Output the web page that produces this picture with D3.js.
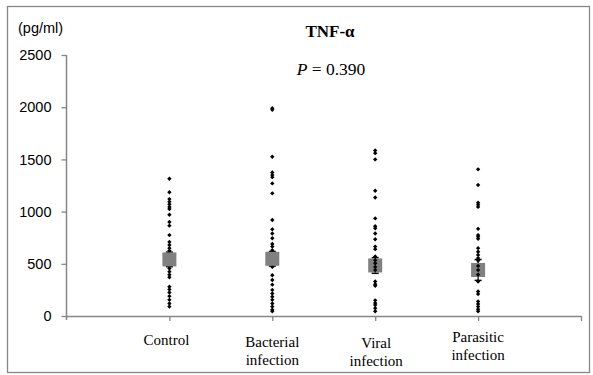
<!DOCTYPE html>
<html>
<head>
<meta charset="utf-8">
<script src="https://cdn.jsdelivr.net/npm/d3@7"></script>
<style>
  body { margin: 0; background: #fff; }
  .serif { font-family: "Liberation Serif", "Times New Roman", serif; }
  .sans { font-family: "Liberation Sans", Arial, sans-serif; }
</style>
</head>
<body>
<div id="chart"></div>
<script>
// Data
var groups = ["Control", "Bacterial infection", "Viral infection", "Parasitic infection"];
var groupLines = [["Control"], ["Bacterial", "infection"], ["Viral", "infection"], ["Parasitic", "infection"]];

var controlValues = [1315, 1185, 1120, 1095, 1070, 1045, 1025, 970, 900, 865, 775, 710, 680, 650, 625,
  600, 570, 540, 505, 480, 455, 425, 395, 370, 280, 255, 225, 190, 155, 120, 90];
var bacterialValues = [1990, 1975, 1525, 1375, 1350, 1330, 1270, 1175, 920, 830, 790, 745, 690, 665, 630,
  600, 560, 520, 470, 390, 345, 300, 250, 215, 185, 155, 120, 90, 60, 45];
var viralValues = [1585, 1560, 1500, 1200, 1135, 935, 860, 840, 790, 735, 665, 640, 570, 535, 505,
  470, 440, 330, 305, 290, 150, 125, 105, 75, 45];
var parasiticValues = [1405, 1255, 1085, 1065, 1045, 835, 775, 760, 740, 650, 615, 585, 555, 530, 480,
  440, 395, 330, 235, 210, 140, 115, 90, 65, 45];

var means = [542, 548, 484, 441];
var sems = [70, 70, 75, 100];

var yTicks = [0, 500, 1000, 1500, 2000, 2500];

var width = 593, height = 375;

var svg = d3.select("#chart").append("svg")
  .attr("width", width)
  .attr("height", height);

// outer frame
svg.append("rect")
  .attr("x", 7.5).attr("y", 6.5)
  .attr("width", 582).attr("height", 366)
  .attr("fill", "#fff")
  .attr("stroke", "#878787")
  .attr("stroke-width", 1.3);

// scales: categories sit at 1..4 on a 0..5 axis
var x = d3.scaleLinear().domain([0, 5]).range([66.5, 581]);
var y = d3.scaleLinear().domain([0, 2500]).range([316, 55]);

var axisColor = "#868686";

// y axis
var yAxis = svg.append("g")
  .attr("transform", "translate(" + x(0) + ",0)")
  .call(d3.axisLeft(y).tickValues(yTicks).tickFormat(d3.format("d"))
    .tickSize(5).tickPadding(10).tickSizeOuter(0));
yAxis.attr("font-family", null);
yAxis.select(".domain").attr("stroke", axisColor).attr("stroke-width", 1.5)
  .attr("d", "M0," + y(2500) + "V" + (y(0) + 4));
yAxis.selectAll(".tick line").attr("stroke", axisColor).attr("stroke-width", 1.3);
yAxis.selectAll(".tick text")
  .attr("class", "sans")
  .attr("font-size", "14.5px")
  .attr("fill", "#000");

// x axis
var xAxis = svg.append("g")
  .attr("transform", "translate(0," + y(0) + ")")
  .call(d3.axisBottom(x).tickValues([1, 2, 3, 4, 5]).tickSize(5).tickFormat("").tickSizeOuter(0));
xAxis.select(".domain").attr("stroke", axisColor).attr("stroke-width", 1.5);
xAxis.selectAll(".tick line").attr("stroke", axisColor).attr("stroke-width", 1.3);

// category labels (Excel text boxes, each placed a bit differently)
var labelLayout = [{dx: -3, base: 345}, {dx: 0, base: 347}, {dx: 1, base: 348}, {dx: 0, base: 342}];
groupLines.forEach(function(lines, i) {
  var t = svg.append("text")
    .attr("class", "serif")
    .attr("font-size", "15px")
    .attr("text-anchor", "middle")
    .attr("fill", "#000");
  lines.forEach(function(l, j) {
    t.append("tspan")
      .attr("x", x(i + 1) + labelLayout[i].dx)
      .attr("y", labelLayout[i].base + j * 18)
      .text(l);
  });
});

// unit label
svg.append("text")
  .attr("class", "sans")
  .attr("x", 18).attr("y", 33)
  .attr("font-size", "14.5px")
  .text("(pg/ml)");

// title and p value
svg.append("text")
  .attr("class", "serif")
  .attr("x", 330).attr("y", 36.5)
  .attr("text-anchor", "middle")
  .attr("font-weight", "bold")
  .attr("font-size", "17px")
  .text("TNF-α");

var pText = svg.append("text")
  .attr("class", "serif")
  .attr("x", 331).attr("y", 75)
  .attr("text-anchor", "middle")
  .attr("font-size", "17.5px");
pText.append("tspan").attr("font-style", "italic").text("P");
pText.append("tspan").text(" = 0.390");

var allValues = [controlValues, bacterialValues, viralValues, parasiticValues];
var diamond = d3.symbol().type(d3.symbolSquare).size(9.5);

function drawDots(i) {
  svg.append("g").selectAll("path")
    .data(allValues[i])
    .enter().append("path")
    .attr("d", diamond)
    .attr("transform", function(d) {
      return "translate(" + x(i + 1) + "," + y(d) + ") rotate(45)";
    })
    .attr("fill", "#000");
}

// control and bacterial dots sit under the mean markers
drawDots(0);
drawDots(1);

// error bars + mean squares
var meanG = svg.append("g");
means.forEach(function(m, i) {
  var cx = x(i + 1);
  var g = meanG.append("g");
  g.append("line")
    .attr("x1", cx).attr("x2", cx)
    .attr("y1", y(m + sems[i])).attr("y2", y(m - sems[i]))
    .attr("stroke", "#000").attr("stroke-width", 1.2);
  [m + sems[i], m - sems[i]].forEach(function(v) {
    g.append("line")
      .attr("x1", cx - 3.5).attr("x2", cx + 3.5)
      .attr("y1", y(v)).attr("y2", y(v))
      .attr("stroke", "#000").attr("stroke-width", 1.5);
  });
  g.append("rect")
    .attr("x", cx - 7).attr("y", y(m) - 7)
    .attr("width", 14).attr("height", 14)
    .attr("fill", "#808080");
});

// viral and parasitic dots are drawn over the mean markers
drawDots(2);
drawDots(3);
</script>
</body>
</html>
